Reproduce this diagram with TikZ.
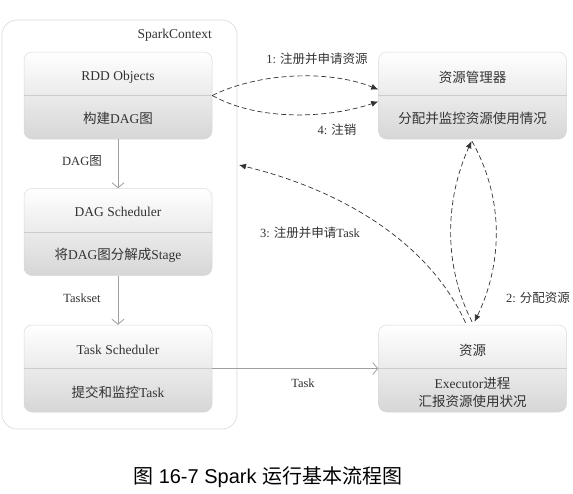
\documentclass[tikz,border=0pt]{standalone}
\usepackage{fontspec}
\setmainfont{Liberation Serif}
\newfontfamily\cjk{Noto Sans CJK SC}
\newfontfamily\capsans{Liberation Sans}
\usetikzlibrary{arrows.meta,calc}
\newcommand\zh[1]{{\cjk #1}}
\begin{document}
\begin{tikzpicture}[x=1pt,y=-1pt,
  container/.style={draw=gray!30, line width=0.6pt, rounded corners=15pt, minimum width=235pt, minimum height=409pt, inner sep=0pt},
  boxbg/.style={draw=gray!30, line width=0.5pt, rounded corners=8pt, top color=white, bottom color=gray!32, minimum width=188pt, minimum height=87pt, inner sep=0pt},
  divider/.style={draw=gray!40, line width=0.5pt},
  txt/.style={text=black!80, font=\fontsize{13.5}{15}\selectfont, inner sep=0pt, align=center},
  lbl/.style={text=black!80, font=\fontsize{12.5}{14}\selectfont, inner sep=0pt},
  flow/.style={draw=gray!75, line width=0.8pt, -{Straight Barb[length=5pt,width=12pt,line width=0.8pt]}},
  dash/.style={}, 
  dashedarrow/.style={draw=black!80, line width=0.7pt, dash pattern=on 5pt off 3pt, -{Latex[length=7pt,width=6pt]}}
]
\fill[white] (0,0) rectangle (573,493);
\useasboundingbox (0,0) rectangle (573,493);

% container
\node[container] (sc) at (119.5,224.5) {};
\node[txt, anchor=east] (sctitle) at (212,35) {SparkContext};

% left boxes
\node[boxbg] (rdd) at (118,95.5) {};
\draw[divider] (rdd.west) -- (rdd.east);
\node[txt] (rddA) at (118,77) {RDD Objects};
\node[txt] (rddB) at (118,118) {\zh{构建}DAG\zh{图}};

\node[boxbg] (dag) at (118,232) {};
\draw[divider] (dag.west) -- (dag.east);
\node[txt] (dagA) at (118,212) {DAG Scheduler};
\node[txt] (dagB) at (118,255) {\zh{将}DAG\zh{图分解成}Stage};

\node[boxbg] (ts) at (118,368.5) {};
\draw[divider] (ts.west) -- (ts.east);
\node[txt] (tsA) at (118,350) {Task Scheduler};
\node[txt] (tsB) at (118,392) {\zh{提交和监控}Task};

% right boxes
\node[boxbg] (rm) at (472.5,95.5) {};
\draw[divider] (rm.west) -- (rm.east);
\node[txt] (rmA) at (472.5,77) {\zh{资源管理器}};
\node[txt] (rmB) at (472.5,118) {\zh{分配并监控资源使用情况}};

\node[boxbg] (res) at (472.5,368.5) {};
\draw[divider] (res.west) -- (res.east);
\node[txt] (resA) at (472.5,350) {\zh{资源}};
\node[txt] (resB) at (472.5,383) {Executor\zh{进程}};
\node[txt] (resC) at (472.5,401) {\zh{汇报资源使用状况}};

% solid flows
\draw[flow] (rdd.south) -- (dag.north);
\node[lbl] (l0) at (82,161) {DAG\zh{图}};
\draw[flow] (dag.south) -- (ts.north);
\node[lbl] (l0b) at (82,298) {Taskset};
\draw[flow] (ts.east) -- (res.west);
\node[lbl] (l5) at (303,383) {Task};

% dashed flows
\draw[dashedarrow] (rdd.east) .. controls (260,72) and (330,70) .. ($(rm.west)+(0,-6)$);
\draw[dashedarrow] (rdd.east) .. controls (260,122) and (330,118) .. ($(rm.west)+(0,6)$);
\node[lbl] (l1) at (317,59) {1: \zh{注册并申请资源}};
\node[lbl] (l4) at (337,130) {4: \zh{注销}};

\coordinate (c3end) at (239,165);
\draw[dashedarrow] ($(res.north)+(-7,-2)$) .. controls (432,248) and (350,192) .. (c3end);
\node[lbl] (l3) at (310,233) {3: \zh{注册并申请}Task};

\draw[dashedarrow] ($(res.north)+(-0.5,-3)$) .. controls (443,265) and (445,200) .. ($(rm.south)+(-1,2)$);
\draw[dashedarrow] ($(rm.south)+(-0.5,2)$) .. controls (505,200) and (502,265) .. ($(res.north)+(2,-3)$);
\node[lbl] (l2) at (538,298) {2: \zh{分配资源}};

% caption
\node[text=black, font=\fontsize{20}{22}\selectfont\capsans, anchor=west, inner sep=0pt] (cap) at (133,477) {\zh{图} 16-7 Spark \zh{运行基本流程图}};
\end{tikzpicture}
\end{document}
